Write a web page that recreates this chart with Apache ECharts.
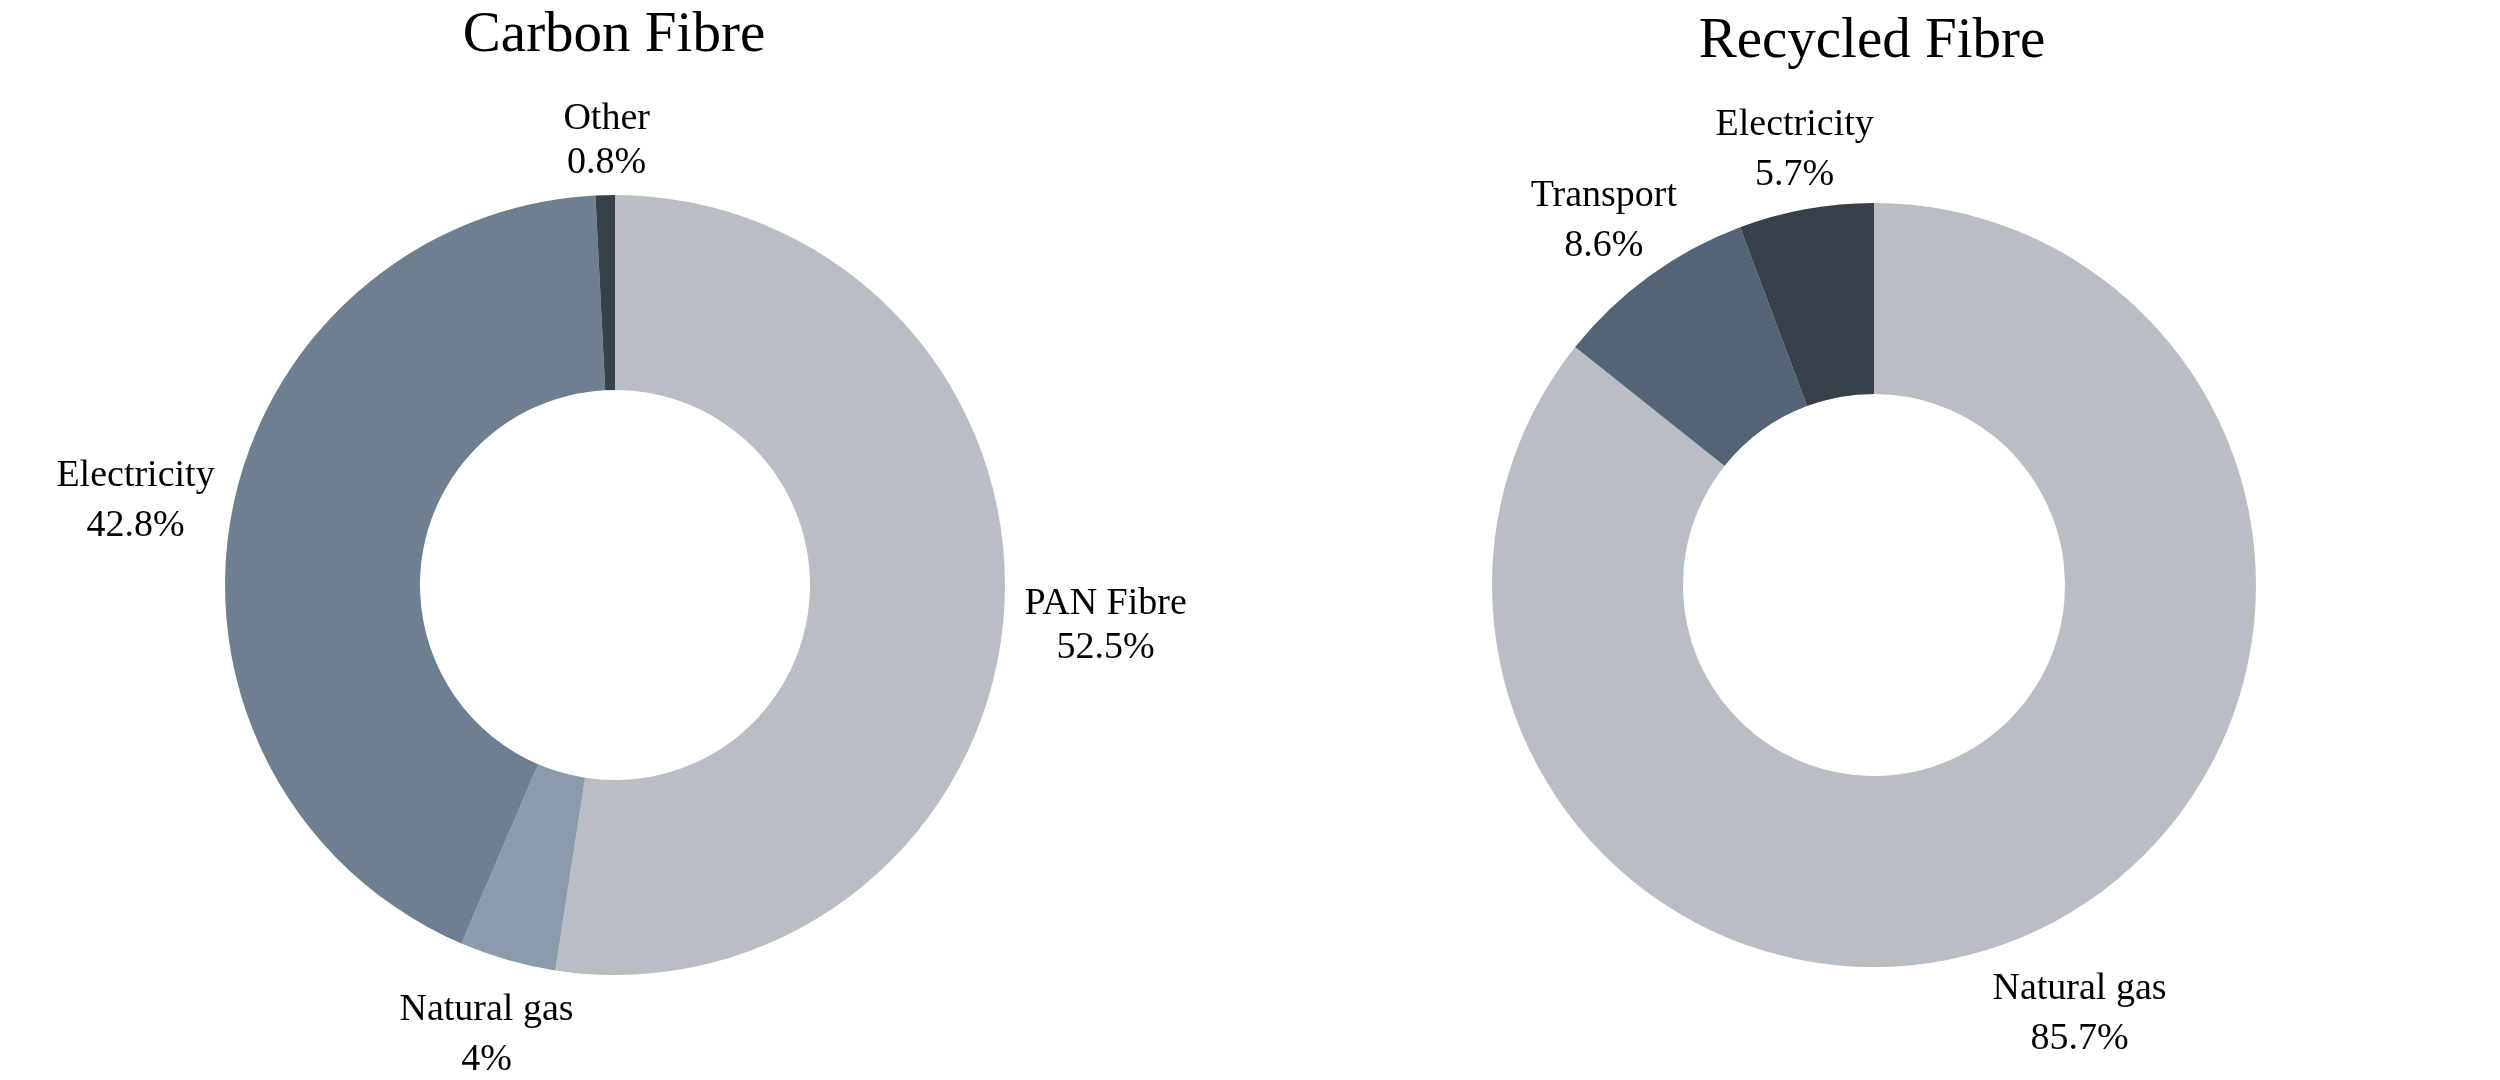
<!DOCTYPE html>
<html>
<head>
<meta charset="utf-8">
<title>Carbon Fibre vs Recycled Fibre</title>
<script src="https://cdn.jsdelivr.net/npm/echarts@6/dist/echarts.min.js"></script>
<style type="text/css">
html, body {
	margin: 0;
	padding: 0;
	background: #fff;
}
#container {
	width: 2500px;
	height: 1080px;
}
</style>
</head>
<body>
<div id="container"></div>

<script>
// 数据
var carbonNames = ['PAN Fibre', 'Natural gas', 'Electricity', 'Other'];
var carbonValues = [52.5, 4, 42.8, 0.8];

var recycledNames = ['Natural gas', 'Transport', 'Electricity'];
var recycledValues = [85.7, 8.6, 5.7];

var carbonColors = ['#b9bec5', '#8a9bab', '#6e7f8f', '#36414b'];
var recycledColors = ['#b9bec5', '#536477', '#38404a'];

var fontFamily = "'Liberation Serif', 'Times New Roman', serif";

// 两个环的位置，nudge 是标签的微调 [dx, dy]
var rings = [
	{cx: 615, cy: 585, r0: 195, r: 390, nudge: [[3, 6], [8, 10], [0, -3], [3, 8]]},
	{cx: 1874, cy: 585, r0: 191, r: 382, nudge: [[-6, 24], [8, 0], [6, 8]]}
];

function buildData(names, values, colors) {
	var list = [];
	for (var i = 0; i < names.length; i++) {
		var item = {
			name: names[i],
			value: values[i],
			itemStyle: {color: colors[i]}
		};
		// 这两个标签行距小一点
		if (names[i] == 'Other' || names[i] == 'PAN Fibre') {
			item.label = {lineHeight: 44};
		}
		list.push(item);
	}
	return list;
}

// 标签放在扇区中线外侧，文字块居中
function labelLayoutFor(values, ring) {
	var total = 0;
	for (var i = 0; i < values.length; i++) total += values[i];
	return function (params) {
		var before = 0;
		for (var j = 0; j < params.dataIndex; j++) before += values[j];
		var mid = (before + values[params.dataIndex] / 2) / total * 2 * Math.PI;
		var nx = Math.sin(mid);
		var ny = -Math.cos(mid);
		var w = params.labelRect.width;
		var h = params.labelRect.height;
		var d = ring.r + 18;
		var nudge = ring.nudge[params.dataIndex] || [0, 0];
		return {
			x: ring.cx + nx * d + nx * w / 2 + nudge[0],
			y: ring.cy + ny * d + ny * h / 2 + nudge[1],
			align: 'center',
			verticalAlign: 'middle'
		};
	};
}

function pieSeries(name, names, values, colors, ring) {
	return {
		name: name,
		type: 'pie',
		center: [ring.cx, ring.cy],
		radius: [ring.r0, ring.r],
		startAngle: 90,
		clockwise: true,
		avoidLabelOverlap: false,
		silent: true,
		itemStyle: {borderWidth: 0},
		label: {
			show: true,
			position: 'outside',
			overflow: 'none',
			fontFamily: fontFamily,
			fontSize: 38,
			lineHeight: 50,
			color: '#000',
			align: 'center',
			formatter: function (p) {
				return p.name + '\n' + p.value + '%';
			}
		},
		labelLine: {show: false},
		labelLayout: labelLayoutFor(values, ring),
		data: buildData(names, values, colors)
	};
}

var myChart = echarts.init(document.getElementById('container'));
var option = {
	animation: false,
	backgroundColor: '#fff',
	title: [
		{
			text: 'Carbon Fibre',
			left: 609,
			top: 3,
			textAlign: 'center',
			textStyle: {fontFamily: fontFamily, fontSize: 57, fontWeight: 'normal', color: '#000'}
		},
		{
			text: 'Recycled Fibre',
			left: 1867,
			top: 9,
			textAlign: 'center',
			textStyle: {fontFamily: fontFamily, fontSize: 57, fontWeight: 'normal', color: '#000'}
		}
	],
	series: [
		pieSeries('Carbon Fibre', carbonNames, carbonValues, carbonColors, rings[0]),
		pieSeries('Recycled Fibre', recycledNames, recycledValues, recycledColors, rings[1])
	]
};
myChart.setOption(option);
</script>
</body>
</html>
